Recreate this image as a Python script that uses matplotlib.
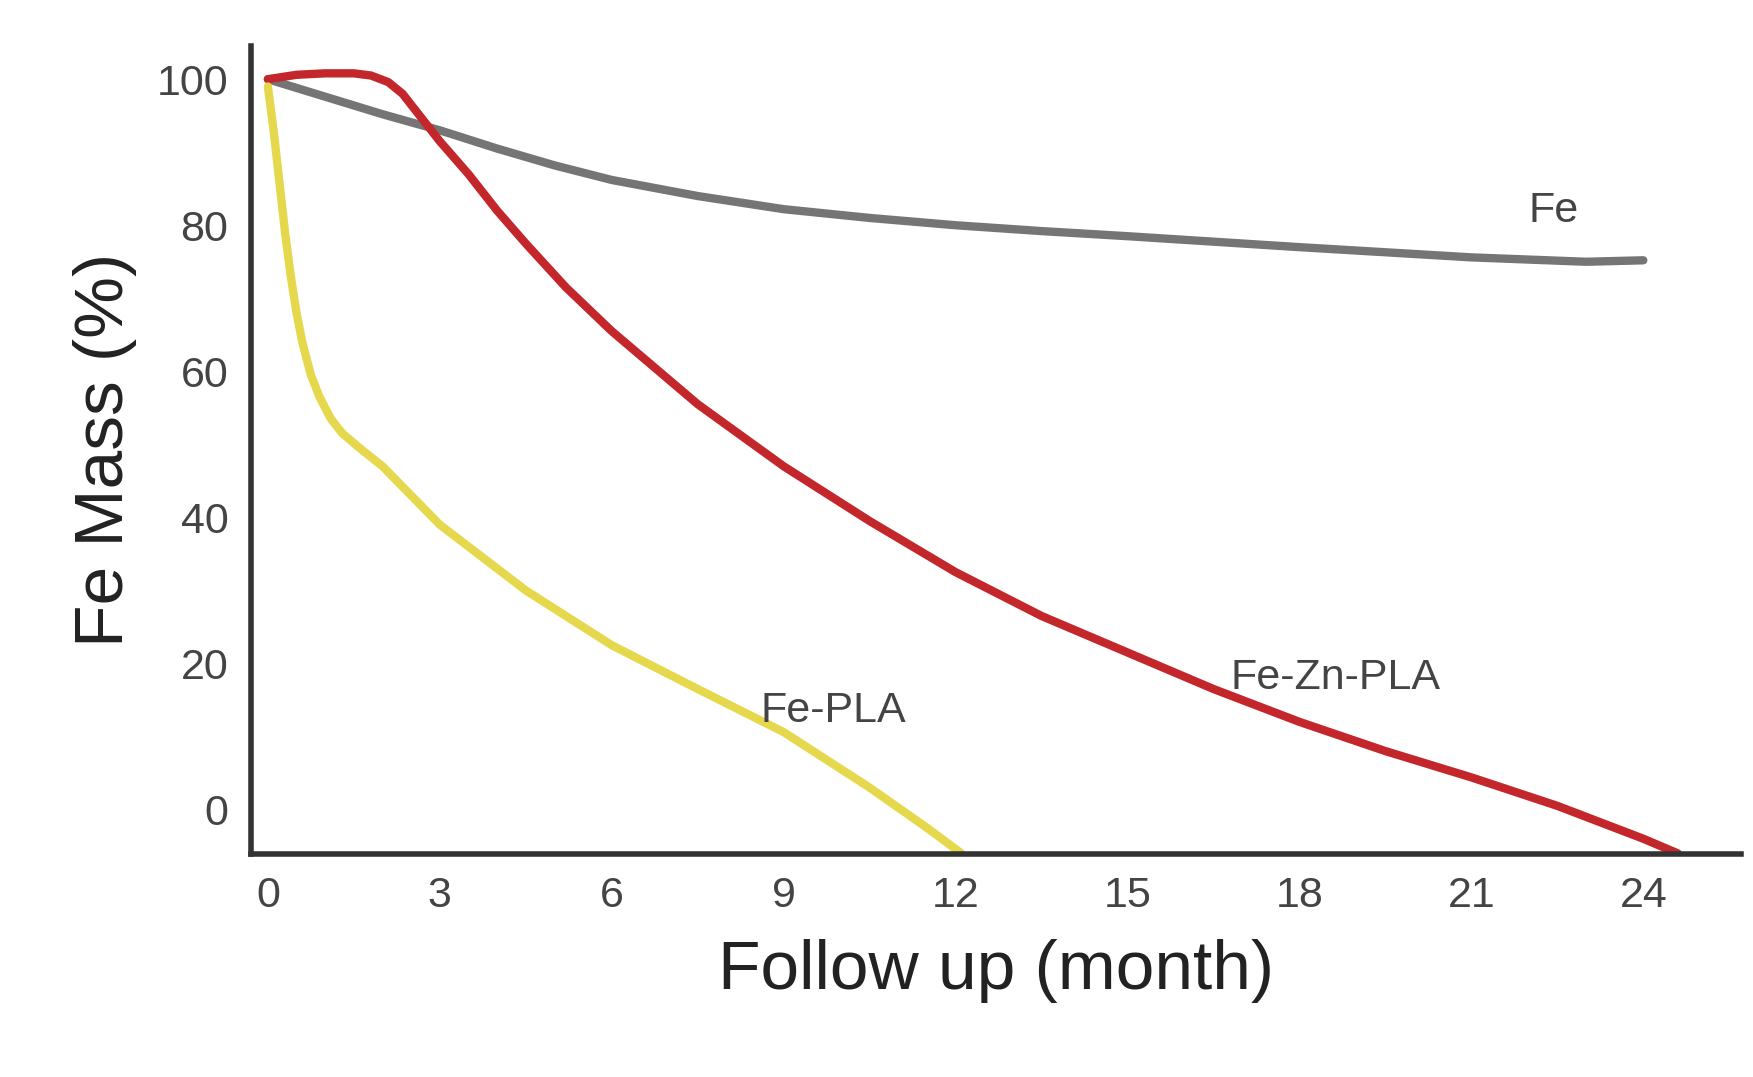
import matplotlib
matplotlib.use("Agg")
import matplotlib.pyplot as plt
import numpy as np

plt.rcParams['font.family'] = ['Liberation Sans', 'DejaVu Sans']

fe_x = [0, 1, 2, 3, 4, 5, 6, 7.5, 9, 10.5, 12, 13.5, 15, 18, 21, 23, 24]
fe_y = [100, 97.6, 95.2, 93, 90.5, 88.2, 86.2, 84, 82.2, 81, 80, 79.2, 78.5, 77, 75.6, 75, 75.2]
red_x = [0, 0.5, 1, 1.5, 1.8, 2.1, 2.35, 2.6, 3, 3.5, 4, 4.5, 5.2, 6, 7.5, 9, 10.5, 12, 13.5, 15, 16.5, 18, 19.5, 21, 22.5, 24, 24.6]
red_y = [100, 100.6, 100.8, 100.8, 100.5, 99.6, 98, 95.5, 91.5, 87, 82, 77.5, 71.5, 65.5, 55.5, 47, 39.5, 32.5, 26.5, 21.5, 16.5, 12, 8, 4.4, 0.5, -4, -6]
yel_x = [0, 0.1, 0.2, 0.3, 0.4, 0.5, 0.6, 0.75, 0.9, 1.1, 1.3, 1.6, 2, 2.5, 3, 4.5, 6, 7.5, 9, 10.5, 11.5, 12.1]
yel_y = [99, 93, 86, 79, 73, 68, 64, 59.5, 56.5, 53.5, 51.5, 49.5, 47, 43, 39, 30, 22.5, 16.5, 10.6, 3, -2.5, -6]
xticks = [0, 3, 6, 9, 12, 15, 18, 21, 24]
yticks = [0, 20, 40, 60, 80, 100]

fig = plt.figure(figsize=(17.53, 10.77), dpi=100)
ax = fig.add_axes([0.143, 0.207, 0.85, 0.75])
kw = dict(lw=6, solid_capstyle='round', solid_joinstyle='round')
ax.plot(fe_x, fe_y, color='#757575', **kw)
ax.plot(red_x, red_y, color='#c3262b', **kw)
ax.plot(yel_x, yel_y, color='#e6d84c', **kw)
ax.set_xlim(-0.3, 25.7)
ax.set_ylim(-6.1, 104.5)
ax.set_xticks(xticks)
ax.set_yticks(yticks)
ax.tick_params(length=0, labelsize=31, colors='#444444', pad=16)
for s in ['top', 'right']:
    ax.spines[s].set_visible(False)
for s in ['left', 'bottom']:
    ax.spines[s].set_linewidth(4)
    ax.spines[s].set_color('#333333')
ax.set_xlabel('Follow up (month)', fontsize=50, color='#222222', labelpad=16)
ax.set_ylabel('Fe Mass (%)', fontsize=50, color='#222222', labelpad=14)
ax.text(22.0, 80.5, 'Fe', fontsize=31, color='#444444')
ax.text(16.8, 16.5, 'Fe-Zn-PLA', fontsize=31, color='#444444')
ax.text(8.6, 12, 'Fe-PLA', fontsize=31, color='#444444')
fig.savefig('out.png', dpi=100)
